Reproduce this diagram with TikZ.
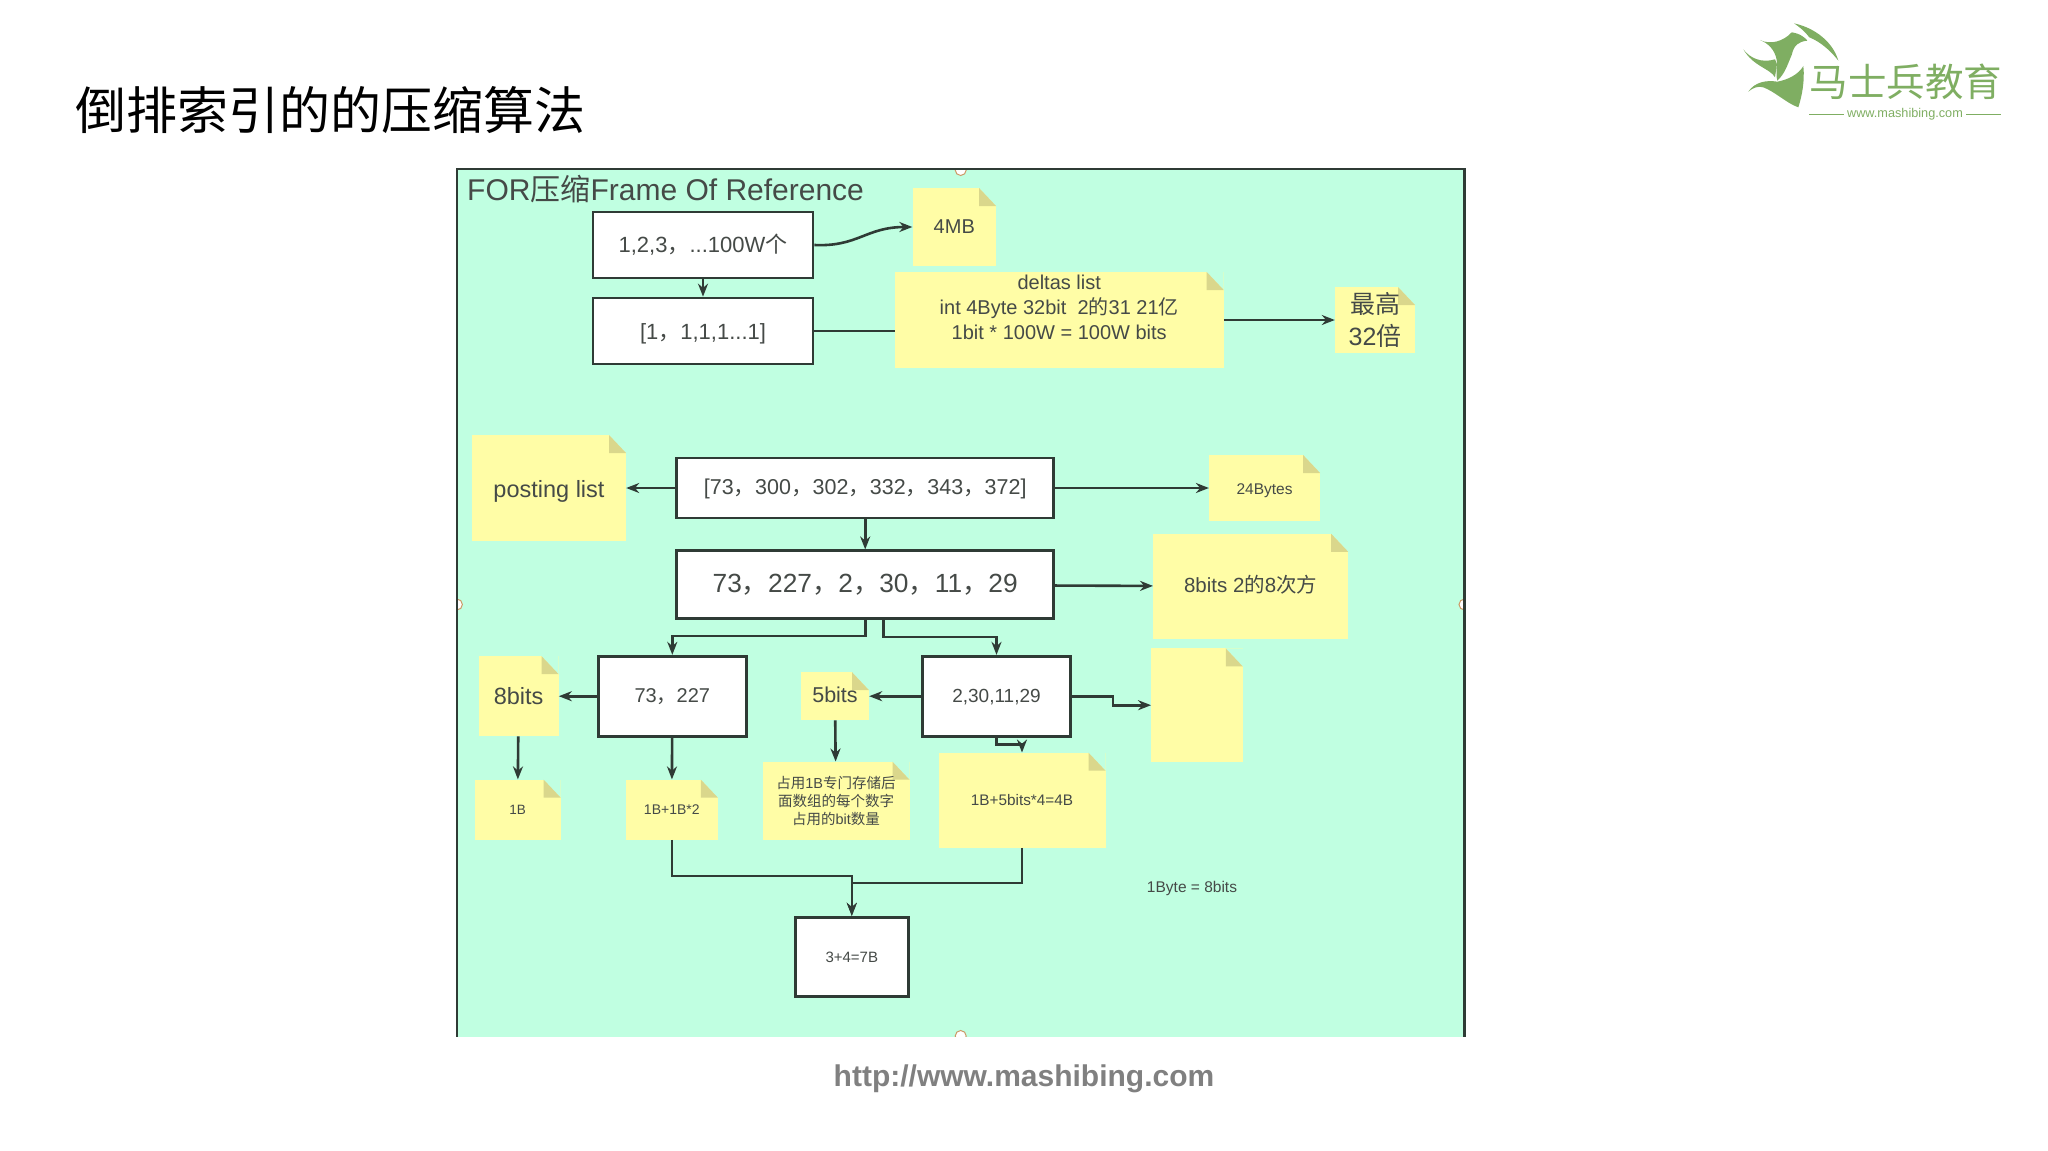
\documentclass[tikz,border=0pt]{standalone}
\usepackage{fontspec}
\setmainfont{Liberation Sans}
\newfontfamily\cjkfont{Noto Sans CJK SC}
\usetikzlibrary{arrows.meta}
\definecolor{panelGreen}{HTML}{C0FFE1}
\definecolor{noteYellow}{HTML}{FFFDA6}
\definecolor{noteFold}{HTML}{DAD78C}
\definecolor{lineGray}{HTML}{2F3B35}
\definecolor{textGray}{HTML}{454A47}
\definecolor{logoGreen}{HTML}{7FAE62}
\newcommand{\zh}[1]{{\cjkfont #1}}
\newcommand{\sized}[1]{\fontsize{#1}{\dimexpr#1pt*5/4\relax}\selectfont}
\newcommand{\nudged}[2]{\raisebox{#1}[\height][\depth]{#2}}
\begin{document}
\begin{tikzpicture}
[x=1pt,y=-1pt,%
  boxDecorate/.style={shape=rectangle,draw=lineGray,line width=2.7pt,fill=white,text=textGray,inner sep=0pt,align=center},%
  noteDecorate/.style={shape=rectangle,fill=noteYellow,text=textGray,inner sep=0pt,align=center,
    path picture={
      \fill[panelGreen] (path picture bounding box.north east) -- ++(-17,0) -- ++(17,18) -- cycle;
      \fill[noteFold] (path picture bounding box.north east) ++(-17,0) -- ++(17,18) -- ++(-17,0) -- cycle;
    }},%
  lineDecorate/.style={-,draw=lineGray,line width=2.6pt},%
  arrowDecorate/.style={lineDecorate,-{Stealth[length=13pt,width=10pt]}},%
  handleDecorate/.style={shape=circle,draw=brown!80,fill=white,line width=1pt,inner sep=0pt,minimum size=11pt}]
\useasboundingbox (0,0) rectangle (2048,1151);
%% title and panel
\node (title) at (330,110) [font=\sized{51}\cjkfont,text=black] {倒排索引的的压缩算法};
\fill[panelGreen] (456.9,169) rectangle (1464.5,1036.5);
\begin{scope}
\clip (456.9,169) rectangle (1464.5,1036.5);
\foreach \nodename/\x/\y in {handleTop/960.7/170, handleBottom/960.7/1036, handleLeft/456.9/604.5, handleRight/1464.5/604.5}
{
  \node (\nodename) at (\x,\y) [handleDecorate] {};
}
\end{scope}
\draw[draw=lineGray,line width=2.4pt] (456.9,1036.5) -- (456.9,169) -- (1464.5,169) -- (1464.5,1036.5);
\node (panelTitle) at (467,189) [anchor=west,inner sep=0pt,text=textGray,font=\sized{30}] {FOR\zh{压缩}Frame Of Reference};
%% boxes
\foreach \nodename/\x/\y/\w/\h/\fs/\txt in {
  boxFull/703/245/220/66/22/{1,2,3\zh{，}...100W\zh{个}},
  boxDelta/703/331/220/66/22/{\nudged{-2.5pt}{[1\zh{，}1,1,1...1]}},
  boxPosting/865.2/488/377/60/21.5/{\nudged{-1pt}{[73\zh{，}300\zh{，}302\zh{，}332\zh{，}343\zh{，}372]}},
  boxDiff/865.2/584.8/377/68/26.3/{73\zh{，}227\zh{，}2\zh{，}30\zh{，}11\zh{，}29},
  boxLow/672.3/696.2/148/80/20/{73\zh{，}227},
  boxHigh/996.5/696.2/148/80/19/{\nudged{-1pt}{2,30,11,29}},
  boxSum/851.8/957/113/79.6/15/{3+4=7B}}
{
  \node (\nodename) at (\x,\y) [boxDecorate,minimum width=\w pt,minimum height=\h pt,font=\sized{\fs}] {\txt};
}
%% notes
\foreach \nodename/\x/\y/\w/\h/\fs/\txt in {
  noteSize/954.3/227/83.5/78/20/{4MB},
  noteDeltas/1059.2/320/329/96/20/{deltas list\\int 4Byte 32bit\ \ 2\zh{的}31 21\zh{亿}\\1bit * 100W = 100W bits\\\mbox{}},
  noteTop/1375/320/80/66/25/{\zh{最高}\\32\zh{倍}},
  notePosting/549/488/154/106/23.5/{\nudged{-3pt}{posting list}},
  noteBytes/1264.6/488/111/66/15.5/{\nudged{-2.5pt}{24Bytes}},
  notePower/1250.7/586.3/195/105/20.5/{\nudged{2pt}{8bits 2\zh{的}8\zh{次方}}},
  noteEmpty/1197/705.2/91.5/113.5/15/{},
  noteEight/518.6/696.2/80/80/23.5/{8bits},
  noteFive/835/696.2/68/48/21.5/{\nudged{1pt}{5bits}},
  noteOne/517.6/809.6/86/60/13.5/{1B},
  noteTwo/671.8/809.6/92/60/14/{1B+1B*2},
  noteWidth/836/800.7/147/78/14.5/{\zh{占用}1B\zh{专门存储后}\\\zh{面数组的每个数字}\\\zh{占用的}bit\zh{数量}},
  noteFour/1022/800.2/167/95/15.3/{1B+5bits*4=4B}}
{
  \node (\nodename) at (\x,\y) [noteDecorate,minimum width=\w pt,minimum height=\h pt,font=\sized{\fs}] {\txt};
}
\node (byteLabel) at (1192,888.2) [text=textGray,font=\sized{15.5}] {1Byte = 8bits};
\node (siteLabel) at (1024,1079) [text=black!50,font=\sized{30}\bfseries] {http://www.mashibing.com};
%% edges or lines
\path
\foreach \startnode/\endnode in {boxFull/boxDelta, boxPosting/notePosting, boxPosting/noteBytes, boxPosting/boxDiff, boxDiff/notePower, boxLow/noteEight, boxHigh/noteFive, noteEight/noteOne, boxLow/noteTwo, noteFive/noteWidth, noteDeltas/noteTop}
{
  (\startnode) edge[arrowDecorate] (\endnode)
};
\draw[arrowDecorate] (boxFull.east) .. controls (858,247) and (866,227) .. (noteSize.west);
\draw[lineDecorate] (boxDelta.east) -- (boxDelta.east -| noteDeltas.west);
\draw[arrowDecorate] (boxDiff.south) -- ++(0,16) -| (boxLow.north);
\draw[arrowDecorate] ([xshift=18pt]boxDiff.south) -- ++(0,17) -| (boxHigh.north);
\draw[arrowDecorate] (boxHigh.east) -- ++(41,0) |- (noteEmpty.west);
\draw[arrowDecorate] (boxHigh.south) -- ++(0,7) -| (noteFour.north);
\draw[arrowDecorate] (noteTwo.south) -- ++(0,36) -| (boxSum.north);
\draw[arrowDecorate] (noteFour.south) -- ++(0,35) -| (boxSum.north);
%% logo
\begin{scope}[shift={(1720,0)},scale=1/3]
\fill[logoGreen] (222,70) .. controls (290,85) and (340,130) .. (355,182) .. controls (330,150) and (300,125) .. (268,112) .. controls (255,95) and (240,82) .. (222,70) -- cycle;
\fill[logoGreen] (120,120) .. controls (150,135) and (190,125) .. (215,97) .. controls (240,100) and (258,115) .. (262,122) .. controls (235,125) and (222,135) .. (215,165) .. controls (200,200) and (195,220) .. (172,242) .. controls (165,215) and (175,200) .. (170,180) .. controls (165,150) and (145,130) .. (120,120) -- cycle;
\fill[logoGreen] (70,148) .. controls (90,175) and (125,190) .. (165,178) .. controls (178,195) and (165,215) .. (165,232) .. controls (150,205) and (100,200) .. (70,148) -- cycle;
\fill[logoGreen] (85,275) .. controls (105,245) and (140,240) .. (172,245) .. controls (200,240) and (235,225) .. (250,198) .. controls (255,245) and (245,290) .. (235,322) .. controls (200,310) and (165,275) .. (130,262) .. controls (115,258) and (100,262) .. (85,275) -- cycle;
\end{scope}
\node (logoName) at (1906,82) [text=logoGreen,font=\sized{38.5}\cjkfont] {马士兵教育};
\node (logoSite) at (1905,114) [text=logoGreen,font=\sized{12.7}] {www.mashibing.com};
\coordinate (logoRuleA) at (1809,114);
\coordinate (logoRuleB) at (2001,114);
\draw[logoGreen,line width=0.8pt] (logoRuleA) -- (logoSite.west);
\draw[logoGreen,line width=0.8pt] (logoSite.east) -- (logoRuleB);
\end{tikzpicture}
\end{document}
